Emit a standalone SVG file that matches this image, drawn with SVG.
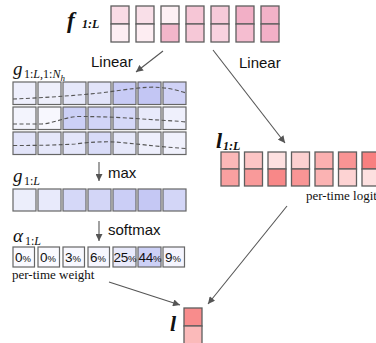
<svg xmlns="http://www.w3.org/2000/svg" width="376" height="343" viewBox="0 0 376 343">
<defs>
<marker id="ah" viewBox="0 0 10 10" refX="10" refY="5" markerWidth="8" markerHeight="7" markerUnits="userSpaceOnUse" orient="auto">
<path d="M0,0 L10,5 L0,10 z" fill="#555"/>
</marker>
<style>
.c{stroke:#5e5e5e;stroke-width:1.3}
.cl{stroke:#666;stroke-width:1.2}
.dash{fill:none;stroke:#555;stroke-width:1.1;stroke-dasharray:4 2.5}
.arr{fill:none;stroke:#555;stroke-width:1.1;marker-end:url(#ah)}
.lbl{font-family:"Liberation Sans",Arial,sans-serif;font-size:15px;fill:#111}
.mth{font-family:"Liberation Serif","Times New Roman",serif;font-style:italic;fill:#111}
.bm{font-family:"Liberation Serif","Times New Roman",serif;font-style:italic;font-weight:bold;fill:#111}
.sm{font-family:"Liberation Serif","Times New Roman",serif;font-size:13px;fill:#111}
.pc{font-family:"Liberation Sans",Arial,sans-serif;font-size:13.5px;fill:#111}
.pc tspan{font-size:9.5px}
</style>
</defs>

<g id="f">
<text class="bm" x="67" y="28" font-size="23">f</text>
<text class="bm" x="82" y="28" font-size="12" font-style="normal">1:<tspan font-style="italic">L</tspan></text>
<g class="c">
<rect x="111" y="6" width="18" height="18" fill="#f9dbe5"/><rect x="111" y="24" width="18" height="18" fill="#fdeef3"/>
<rect x="136" y="6" width="18" height="18" fill="#f9dfe8"/><rect x="136" y="24" width="18" height="18" fill="#fdedf2"/>
<rect x="161" y="6" width="18" height="18" fill="#fdf0f4"/><rect x="161" y="24" width="18" height="18" fill="#f2b6ca"/>
<rect x="186" y="6" width="18" height="18" fill="#f6c6d6"/><rect x="186" y="24" width="18" height="18" fill="#f6c8d7"/>
<rect x="211" y="6" width="18" height="18" fill="#f6cad9"/><rect x="211" y="24" width="18" height="18" fill="#f8d2df"/>
<rect x="236" y="6" width="18" height="18" fill="#f2afc6"/><rect x="236" y="24" width="18" height="18" fill="#f5bdd0"/>
<rect x="261" y="6" width="18" height="18" fill="#f2b2c8"/><rect x="261" y="24" width="18" height="18" fill="#f3b0c7"/>
</g>
</g>

<g id="gNh">
<text class="mth" x="13" y="75" font-size="19">g</text>
<text class="mth" x="24" y="78" font-size="12"><tspan font-style="normal">1:</tspan>L<tspan font-style="normal">,1:</tspan>N<tspan font-size="9" dy="3">h</tspan></text>
<g class="cl">
<rect x="13" y="82" width="23" height="22.5" fill="#eeeffc"/>
<rect x="38" y="82" width="23" height="22.5" fill="#eeeffb"/>
<rect x="63" y="82" width="23" height="22.5" fill="#e6e8fa"/>
<rect x="88" y="82" width="23" height="22.5" fill="#e2e4f9"/>
<rect x="113" y="82" width="23" height="22.5" fill="#c8cbf5"/>
<rect x="138" y="82" width="23" height="22.5" fill="#c3c6f4"/>
<rect x="163" y="82" width="23" height="22.5" fill="#d0d2f6"/>
<rect x="13" y="107" width="23" height="22.5" fill="#f3f4fd"/>
<rect x="38" y="107" width="23" height="22.5" fill="#f7f7fe"/>
<rect x="63" y="107" width="23" height="22.5" fill="#ccd0f6"/>
<rect x="88" y="107" width="23" height="22.5" fill="#d1d4f7"/>
<rect x="113" y="107" width="23" height="22.5" fill="#d5d8f8"/>
<rect x="138" y="107" width="23" height="22.5" fill="#e8eafb"/>
<rect x="163" y="107" width="23" height="22.5" fill="#eff0fc"/>
<rect x="13" y="132" width="23" height="22.5" fill="#e2e4f9"/>
<rect x="38" y="132" width="23" height="22.5" fill="#e6e8fa"/>
<rect x="63" y="132" width="23" height="22.5" fill="#e4e6fa"/>
<rect x="88" y="132" width="23" height="22.5" fill="#d9dcf8"/>
<rect x="113" y="132" width="23" height="22.5" fill="#e6e8fa"/>
<rect x="138" y="132" width="23" height="22.5" fill="#eeeffc"/>
<rect x="163" y="132" width="23" height="22.5" fill="#f0f1fc"/>
</g>
<path class="dash" d="M13,99 C40,98 70,96 100,93 C125,90 145,86 160,87.5 C172,88.5 180,91 186,93"/>
<path class="dash" d="M13,124 L42,124 C55,123 65,117 78,116.5 C105,116.5 130,118 150,119.5 C165,120.5 178,121 186,122"/>
<path class="dash" d="M13,145.5 C40,145.5 60,145 75,144 C90,142 105,141.5 115,142 C135,143.5 155,146.5 186,148.5"/>
</g>

<g id="g1L">
<text class="mth" x="13" y="182" font-size="19">g</text>
<text class="mth" x="24" y="185" font-size="12"><tspan font-style="normal">1:</tspan>L</text>
<g class="cl">
<rect x="13" y="189" width="23" height="22" fill="#eceefb"/>
<rect x="38" y="189" width="23" height="22" fill="#e8eafb"/>
<rect x="63" y="189" width="23" height="22" fill="#d5d8f8"/>
<rect x="88" y="189" width="23" height="22" fill="#d3d6f7"/>
<rect x="113" y="189" width="23" height="22" fill="#cbcef6"/>
<rect x="138" y="189" width="23" height="22" fill="#c5c8f4"/>
<rect x="163" y="189" width="23" height="22" fill="#d3d6f7"/>
</g>
</g>

<g id="alpha">
<text class="mth" x="13" y="242" font-size="19">α</text>
<text class="mth" x="25" y="245" font-size="12"><tspan font-style="normal">1:</tspan>L</text>
<g class="cl">
<rect x="13" y="247" width="21.5" height="20" fill="#fafaff"/>
<rect x="38" y="247" width="21.5" height="20" fill="#fafaff"/>
<rect x="63" y="247" width="21.5" height="20" fill="#f8f8fe"/>
<rect x="88" y="247" width="21.5" height="20" fill="#f6f6fe"/>
<rect x="113" y="247" width="23" height="20" fill="#e9eafb"/>
<rect x="138" y="247" width="23" height="20" fill="#ccd0f6"/>
<rect x="163" y="247" width="21.5" height="20" fill="#f5f5fe"/>
</g>
<text class="pc" x="15" y="262">0<tspan>%</tspan></text>
<text class="pc" x="40" y="262">0<tspan>%</tspan></text>
<text class="pc" x="65" y="262">3<tspan>%</tspan></text>
<text class="pc" x="90" y="262">6<tspan>%</tspan></text>
<text class="pc" x="113.5" y="262" letter-spacing="-0.3">25<tspan>%</tspan></text>
<text class="pc" x="138.5" y="262" letter-spacing="-0.3">44<tspan>%</tspan></text>
<text class="pc" x="165" y="262">9<tspan>%</tspan></text>
<text class="sm" x="12" y="279">per-time weight</text>
</g>

<g id="l1L">
<text class="bm" x="216" y="148" font-size="22">l</text>
<text class="bm" x="223" y="150" font-size="12" font-style="normal">1:<tspan font-style="italic">L</tspan></text>
<g class="c">
<rect x="221" y="152" width="18" height="17" fill="#fbb8b8"/><rect x="221" y="169" width="18" height="17" fill="#f9a0a0"/>
<rect x="244.5" y="152" width="18" height="17" fill="#fcc5c5"/><rect x="244.5" y="169" width="18" height="17" fill="#f99a9a"/>
<rect x="268" y="152" width="18" height="17" fill="#fde0e0"/><rect x="268" y="169" width="18" height="17" fill="#f88888"/>
<rect x="291.5" y="152" width="18" height="17" fill="#fcd0d0"/><rect x="291.5" y="169" width="18" height="17" fill="#f99595"/>
<rect x="315" y="152" width="18" height="17" fill="#fbb0b0"/><rect x="315" y="169" width="18" height="17" fill="#fbb3b3"/>
<rect x="338.5" y="152" width="18" height="17" fill="#f99494"/><rect x="338.5" y="169" width="18" height="17" fill="#fdd3d3"/>
<rect x="362" y="152" width="18" height="17" fill="#f88080"/><rect x="362" y="169" width="18" height="17" fill="#fde0e0"/>
</g>
<text class="sm" x="306" y="200">per-time logit</text>
</g>

<g id="l">
<text class="bm" x="170" y="331" font-size="22">l</text>
<g class="c">
<rect x="184" y="308" width="18" height="18" fill="#f88c8c"/>
<rect x="184" y="326" width="18" height="18" fill="#fbbaba"/>
</g>
</g>

<g id="connectors">
<line class="arr" x1="163" y1="51" x2="136" y2="72"/>
<line class="arr" x1="213" y1="50" x2="285" y2="143"/>
<line class="arr" x1="99" y1="162" x2="99" y2="181"/>
<line class="arr" x1="99" y1="221" x2="99" y2="241"/>
<line class="arr" x1="109" y1="282" x2="180" y2="305"/>
<line class="arr" x1="287" y1="206" x2="208" y2="304"/>
<text class="lbl" x="91" y="67">Linear</text>
<text class="lbl" x="239" y="68">Linear</text>
<text class="lbl" x="108" y="178">max</text>
<text class="lbl" x="108" y="235">softmax</text>
</g>
</svg>
